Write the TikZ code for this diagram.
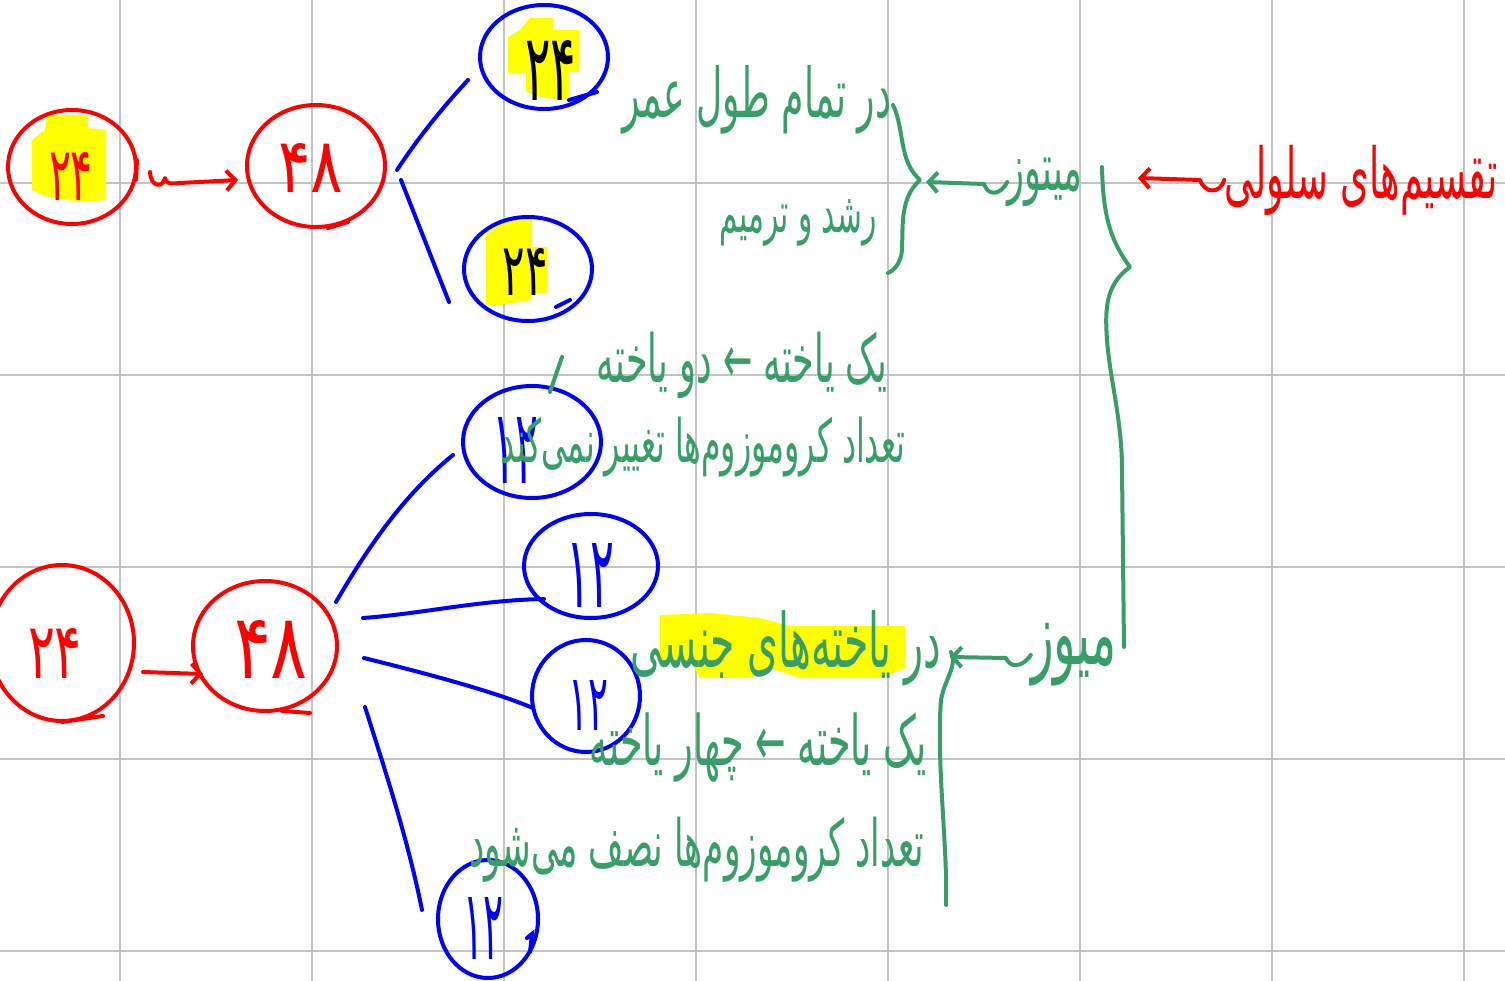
\documentclass[tikz,border=0pt]{standalone}
\usepackage{fontspec}
\usepackage{graphicx}
\usetikzlibrary{shapes.geometric,arrows.meta}
\TeXXeTstate=1
\newfontfamily\arabicfont[Script=Arabic]{DejaVu Sans}
\newfontfamily\numfont{DejaVu Sans}
\definecolor{hgreen}{RGB}{56,158,104}
\definecolor{hred}{RGB}{255,0,0}
\definecolor{hblue}{RGB}{0,0,255}
\definecolor{hyel}{RGB}{255,255,0}
\definecolor{gridc}{RGB}{195,195,195}
\newcommand{\ptext}[2]{\resizebox{#1}{!}{\scalebox{1}[1.9]{\arabicfont #2}}}
\newcommand{\pnum}[3]{\resizebox{#1}{#2}{\numfont #3}}
\begin{document}
\begin{tikzpicture}[x=1pt,y=-1pt,
  ell/.style={ellipse, draw=#1, line width=4pt, inner sep=0pt},
  num/.style={inner sep=0pt},
  gtxt/.style={inner sep=0pt, text=hgreen},
  rtxt/.style={inner sep=0pt, text=hred},
  gline/.style={draw=hgreen, line width=4pt, line cap=round, line join=round},
  bline/.style={draw=hblue, line width=4pt, line cap=round},
  rline/.style={draw=hred, line width=4pt, line cap=round},
  rarr/.style={draw=hred, line width=4pt, line cap=round, line join=round, -{Straight Barb[length=9pt,width=20pt]}},
  garr/.style={draw=hgreen, line width=4pt, line cap=round, line join=round, -{Straight Barb[length=9pt,width=20pt]}},
  gridline/.style={draw=gridc, line width=1.3pt}]
\fill[white] (0,0) rectangle (1505,981);
\useasboundingbox (0,0) rectangle (1505,981);
% grid
\foreach \x in {120,312,504,696,888,1080,1272,1464} \draw[gridline] (\x,0) -- (\x,981);
\foreach \y in {183,375,567,759,951} \draw[gridline] (0,\y) -- (1505,\y);
% highlights
\fill[hyel] (47,115) -- (88,115) -- (88,128) -- (106,130) -- (106,200) -- (80,202) -- (45,196) -- (32,190) -- (32,140) -- (45,130) -- cycle;
\fill[hyel] (530,18) -- (553,18) -- (553,30) -- (579,30) -- (579,72) -- (569,72) -- (569,100) -- (545,98) -- (526,92) -- (526,73) -- (508,73) -- (508,37) -- (520,30) -- cycle;
\fill[hyel] (506,218) -- (532,218) -- (532,247) -- (547,247) -- (547,293) -- (532,293) -- (532,300) -- (500,305) -- (486,305) -- (486,235) -- cycle;
\fill[hyel] (660,615) -- (710,613) -- (760,618) -- (790,626) -- (905,626) -- (905,668) -- (880,678) -- (800,678) -- (770,668) -- (750,678) -- (700,678) -- (690,660) -- (660,660) -- cycle;
% top row
\node[ell=hred, minimum width=128pt, minimum height=114pt] (c1) at (72,167) {};
\node[num, text=hred] (n1) at (71,176) {\pnum{44pt}{48pt}{۲۴}};
\node[ell=hred, minimum width=138pt, minimum height=122pt] (c2) at (316,166) {};
\node[num, text=hred] (n2) at (311,168) {\pnum{65pt}{49pt}{۴۸}};
\node[ell=hblue, minimum width=128pt, minimum height=104pt] (b1) at (544,57) {};
\node[num, text=black] (n3) at (551,70) {\pnum{51pt}{60pt}{۲۴}};
\node[ell=hblue, minimum width=128pt, minimum height=104pt] (b2) at (528,269) {};
\node[num, text=black] (n4) at (525,272) {\pnum{45pt}{47pt}{۲۴}};
% pen tails of the circles
\draw[rline] (137,160) -- (136,180);
\draw[rline] (328,228) -- (348,222);
\draw[bline] (569,100) -- (597,92);
\draw[bline] (556,307) -- (570,300);
\coordinate (ra1) at (150,172);
\coordinate (ra2) at (238,180);
\draw[rarr] (ra1) .. controls (151,188) and (163,188) .. (165,178) .. controls (166,184) and (170,184) .. (180,183) -- (ra2);
\coordinate (l1s) at (397,170); \coordinate (l1e) at (468,80);
\coordinate (l2s) at (401,180); \coordinate (l2e) at (449,302);
\draw[bline] (l1s) .. controls (420,135) and (445,105) .. (l1e);
\draw[bline] (l2s) -- (l2e);
% bottom row
\node[ell=hred, minimum width=144pt, minimum height=156pt] (c3) at (62,643) {};
\node[num, text=hred] (n5) at (55,653) {\pnum{54pt}{50pt}{۲۴}};
\node[ell=hred, minimum width=144pt, minimum height=130pt] (c4) at (265,646) {};
\node[num, text=hred] (n6) at (271,649) {\pnum{74pt}{58pt}{۴۸}};
\draw[rline] (62,722) -- (103,716);
\draw[rline] (282,711) -- (310,713);
\coordinate (ra3) at (143,672);
\coordinate (ra4) at (203,674);
\draw[rarr] (ra3) -- (ra4);
\node[ell=hblue, minimum width=138pt, minimum height=112pt] (d1) at (532,442) {};
\node[num, text=hblue] (n7) at (515,450) {\pnum{46pt}{66pt}{۱۲}};
\node[ell=hblue, minimum width=134pt, minimum height=104pt] (d2) at (591,566) {};
\node[num, text=hblue] (n8) at (590,575) {\pnum{48pt}{64pt}{۱۲}};
\node[ell=hblue, minimum width=108pt, minimum height=112pt] (d3) at (586,696) {};
\node[num, text=hblue] (n9) at (588,705) {\pnum{40pt}{50pt}{۱۲}};
\node[ell=hblue, minimum width=100pt, minimum height=118pt] (d4) at (488,919) {};
\node[num, text=hblue] (n10) at (483,928) {\pnum{40pt}{62pt}{۱۲}};
\draw[bline] (527,938) -- (532,934) -- (530,952);
\coordinate (l3s) at (336,602); \coordinate (l3e) at (453,455);
\coordinate (l4s) at (363,618); \coordinate (l4e) at (544,599);
\coordinate (l5s) at (364,658); \coordinate (l5e) at (533,708);
\coordinate (l6s) at (365,707); \coordinate (l6e) at (422,910);
\draw[bline] (l3s) .. controls (375,535) and (410,490) .. (l3e);
\draw[bline] (l4s) .. controls (420,614) and (480,600) .. (l4e);
\draw[bline] (l5s) .. controls (420,672) and (490,690) .. (l5e);
\draw[bline] (l6s) .. controls (385,770) and (408,840) .. (l6e);
% green texts
\node[gtxt] (t1) at (757,100) {\ptext{268pt}{\beginR در تمام طول عمر\endR}};
\node[gtxt] (t2) at (798,223) {\ptext{157pt}{\beginR رشد و ترمیم\endR}};
\node[gtxt] (m1) at (1045,182) {\ptext{75pt}{\beginR میتوز\endR}};
\node[rtxt] (r1) at (1361,180) {\ptext{273pt}{\beginR تقسیم‌های سلولی\endR}};
\node[gtxt] (t3) at (742,365) {\ptext{290pt}{\beginR یک یاخته ← دو یاخته\endR}};
\node[gtxt] (t4) at (703,447) {\ptext{405pt}{\beginR تعداد کروموزوم‌ها تغییر نمی‌کند\endR}};
\node[gtxt] (t5) at (786,648) {\ptext{310pt}{\beginR در یاخته‌های جنسی\endR}};
\node[gtxt] (m2) at (1074,655) {\ptext{86pt}{\beginR میوز\endR}};
\node[gtxt] (t6) at (758,748) {\ptext{337pt}{\beginR یک یاخته ← چهار یاخته\endR}};
\node[gtxt] (t7) at (697,850) {\ptext{455pt}{\beginR تعداد کروموزوم‌ها نصف می‌شود\endR}};
% braces
\coordinate (bt1) at (926,182);
\coordinate (bt2) at (1138,178);
\coordinate (bt3) at (950,657);
\draw[gline] (893,105) .. controls (905,130) and (898,160) .. (920,180) .. controls (900,198) and (903,225) .. (902,250) .. controls (901,262) and (895,270) .. (888,273);
\draw[gline] (1102,167) .. controls (1103,215) and (1110,240) .. (1130,267) .. controls (1105,285) and (1105,310) .. (1107,340) .. controls (1110,380) and (1122,420) .. (1122,470) -- (1124,647);
\draw[gline] (951,652) .. controls (958,665) and (945,678) .. (941,700) .. controls (936,760) and (948,850) .. (946,905);
\draw[gline] (550,392) -- (562,357);
% arrows to braces
\draw[garr] (m1.west) .. controls (1000,196) and (988,196) .. (984,184) -- (bt1);
\draw[garr] (m2.west) .. controls (1022,668) and (1010,668) .. (1006,658) -- (bt3);
\draw[rarr] (r1.west) .. controls (1220,194) and (1205,194) .. (1200,180) -- (bt2);
\end{tikzpicture}
\end{document}
